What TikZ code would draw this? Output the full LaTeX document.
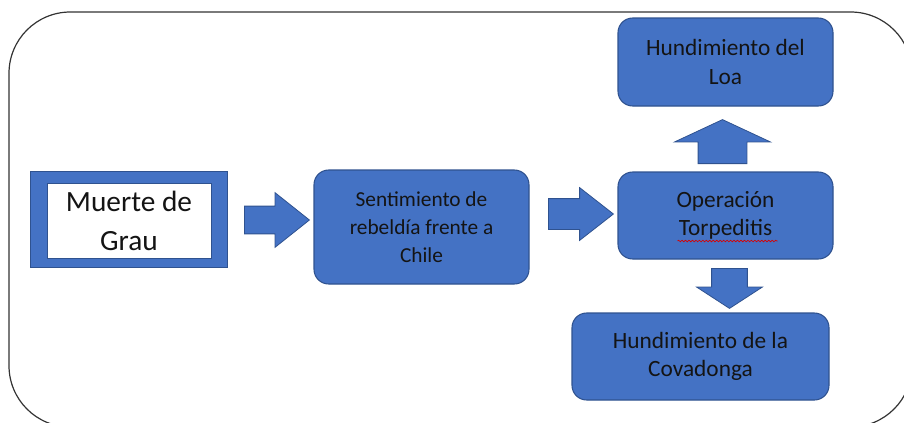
\documentclass[tikz,border=0pt]{standalone}
\usepackage{fontspec}
\setmainfont{Carlito}
\usetikzlibrary{shapes.arrows,calc,decorations.pathmorphing}

\definecolor{boxblue}{RGB}{68,114,196}
\definecolor{boxedge}{RGB}{47,82,143}
\definecolor{inkblack}{RGB}{20,20,20}

\tikzset{
  stepbox/.style={draw=boxedge,fill=boxblue,line width=0.8pt,rounded corners=11pt,
    align=center,inner sep=0pt,text=inkblack,font=\fontsize{17.5}{21.5}\selectfont},
  fatarrow/.style={single arrow,draw=boxedge,fill=boxblue,line width=0.6pt,
    inner xsep=0pt,minimum width=0pt,anchor=tail},
}

\begin{document}
\begin{tikzpicture}[x=0.75pt,y=-0.75pt]
\clip (0,0) rectangle (904,422);
\useasboundingbox (0,0) rectangle (904,422);
% outer frame
\draw[line width=0.9pt,black!80,rounded corners=46pt] (9,12) rectangle (912,427);

% first event
\node[draw=boxedge,fill=boxblue,line width=0.6pt,minimum width=147.75pt,minimum height=72pt] (grauframe) at (128.5,219) {};
\node[draw=boxedge,fill=white,line width=0.6pt,minimum width=123pt,minimum height=56.25pt,
  align=center,inner sep=0pt,font=\fontsize{22}{29.5}\selectfont,text=inkblack] (grau) at (129,221) {Muerte de\\Grau};

\node[stepbox,minimum width=161.25pt,minimum height=85.5pt,font=\fontsize{16}{21}\selectfont] (senti) at (421.5,227) {Sentimiento de\\rebeldía frente a\\Chile};
\node[stepbox,minimum width=161.25pt,minimum height=65.25pt] (op) at (725.5,215.5) {Operación\\Torpeditis};
\node[stepbox,minimum width=161.25pt,minimum height=66pt] (loa) at (725.5,62) {Hundimiento del\\Loa};
\node[stepbox,minimum width=192.75pt,minimum height=65.25pt] (cova) at (700.5,356.5) {Hundimiento de la\\Covadonga};

% spell check mark
\draw[red!85!black,line width=0.5pt,decorate,decoration={snake,amplitude=0.6pt,segment length=2.6pt}]
  ($(op.center)+(-48,25.5)$) -- ($(op.center)+(52,25.5)$);

% block arrows
\node[fatarrow,inner ysep=10.1pt,single arrow head extend=10.1pt,single arrow tip angle=77,minimum height=48.75pt] (a1) at (244,220) {};
\node[fatarrow,inner ysep=11.25pt,single arrow head extend=8.25pt,single arrow tip angle=76,minimum height=48.75pt] (a2) at (548,214) {};
\node[fatarrow,rotate=90,inner ysep=18pt,single arrow head extend=17.6pt,single arrow tip angle=130,minimum height=33pt] (a3) at (722.5,164) {};
\node[fatarrow,rotate=-90,inner ysep=13.1pt,single arrow head extend=11.25pt,single arrow tip angle=114,minimum height=30pt] (a4) at (729.5,268) {};
\end{tikzpicture}
\end{document}
